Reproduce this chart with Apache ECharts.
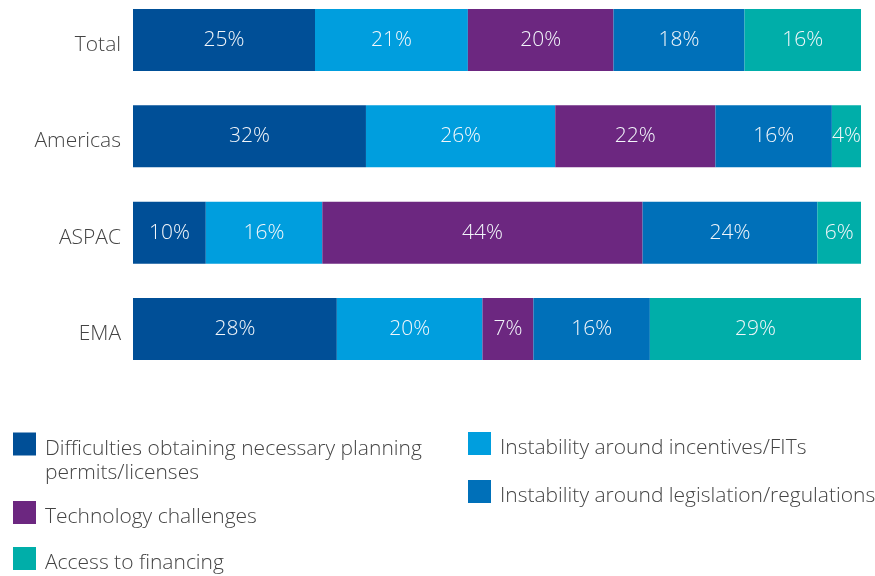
<!DOCTYPE html>
<html>
<head>
<meta charset="utf-8">
<script src="https://cdn.jsdelivr.net/npm/echarts@6/dist/echarts.min.js"></script>
<style>html,body{margin:0;padding:0;background:#fff}#c{width:875px;height:576px}</style>
</head>
<body>
<div id="c"></div>
<script>
var categories = ['Total', 'Americas', 'ASPAC', 'EMA'];
var seriesNames = [
  'Difficulties obtaining necessary planning permits/licenses',
  'Instability around incentives/FITs',
  'Technology challenges',
  'Instability around legislation/regulations',
  'Access to financing'
];
var difficulties = [25, 32, 10, 28];
var incentives = [21, 26, 16, 20];
var technology = [20, 22, 44, 7];
var legislation = [18, 16, 24, 16];
var financing = [16, 4, 6, 29];
var colors = ['#004F97', '#009EDE', '#6C2780', '#0070B9', '#00AEA9'];

var values = [difficulties, incentives, technology, legislation, financing];
var FONT = '"Open Sans", "Liberation Sans", Arial, sans-serif';

var series = values.map(function (v, i) {
  return {
    name: seriesNames[i],
    type: 'bar',
    stack: 'all',
    barWidth: 62,
    data: v,
    itemStyle: { color: colors[i] },
    label: {
      show: true,
      position: 'inside',
      formatter: '{c}%',
      color: '#f2f6fa',
      fontSize: 21,
      fontWeight: 300,
      fontFamily: FONT
    },
    emphasis: { disabled: true }
  };
});

var txt = { fontSize: 21, color: '#444', fontFamily: FONT, fontWeight: 300, lineHeight: 24 };

function leg(name, left, top) {
  return {
    data: [name],
    left: left,
    top: top,
    orient: 'vertical',
    icon: 'rect',
    itemWidth: 23,
    itemHeight: 23,
    itemGap: 0,
    padding: 0,
    selectedMode: false,
    formatter: function (n) {
      if (n === seriesNames[0]) {
        return '{e| }\n{a|Difficulties obtaining necessary planning}\n{a|permits/licenses}';
      }
      return '{s|' + n + '}';
    },
    textStyle: {
      fontSize: 21, color: '#444', fontFamily: FONT, fontWeight: 300,
      rich: {
        e: { fontSize: 10, lineHeight: 34 },
        a: Object.assign({ padding: [0, 0, 0, 4] }, txt),
        s: Object.assign({ padding: [10, 0, 0, 4] }, txt)
      }
    }
  };
}

var chart = echarts.init(document.getElementById('c'), null, { renderer: 'canvas' });
chart.setOption({
  animation: false,
  grid: { left: 133, right: 14, top: 40, height: 289, containLabel: false },
  xAxis: { type: 'value', min: 0, max: 100, show: false },
  yAxis: {
    type: 'category',
    data: categories,
    inverse: true,
    boundaryGap: false,
    axisLine: { show: false },
    axisTick: { show: false },
    splitLine: { show: false },
    axisLabel: {
      margin: 12, fontSize: 21, color: '#444', fontFamily: FONT, fontWeight: 300,
      formatter: function (v) { return '{l|' + v + '}'; },
      rich: { l: Object.assign({ padding: [10, 0, 0, 0] }, txt) }
    }
  },
  legend: [
    leg(seriesNames[0], 13, 415),
    leg(seriesNames[2], 13, 497),
    leg(seriesNames[4], 13, 543),
    leg(seriesNames[1], 468, 428),
    leg(seriesNames[3], 468, 476)
  ],
  series: series
});
</script>
</body>
</html>
